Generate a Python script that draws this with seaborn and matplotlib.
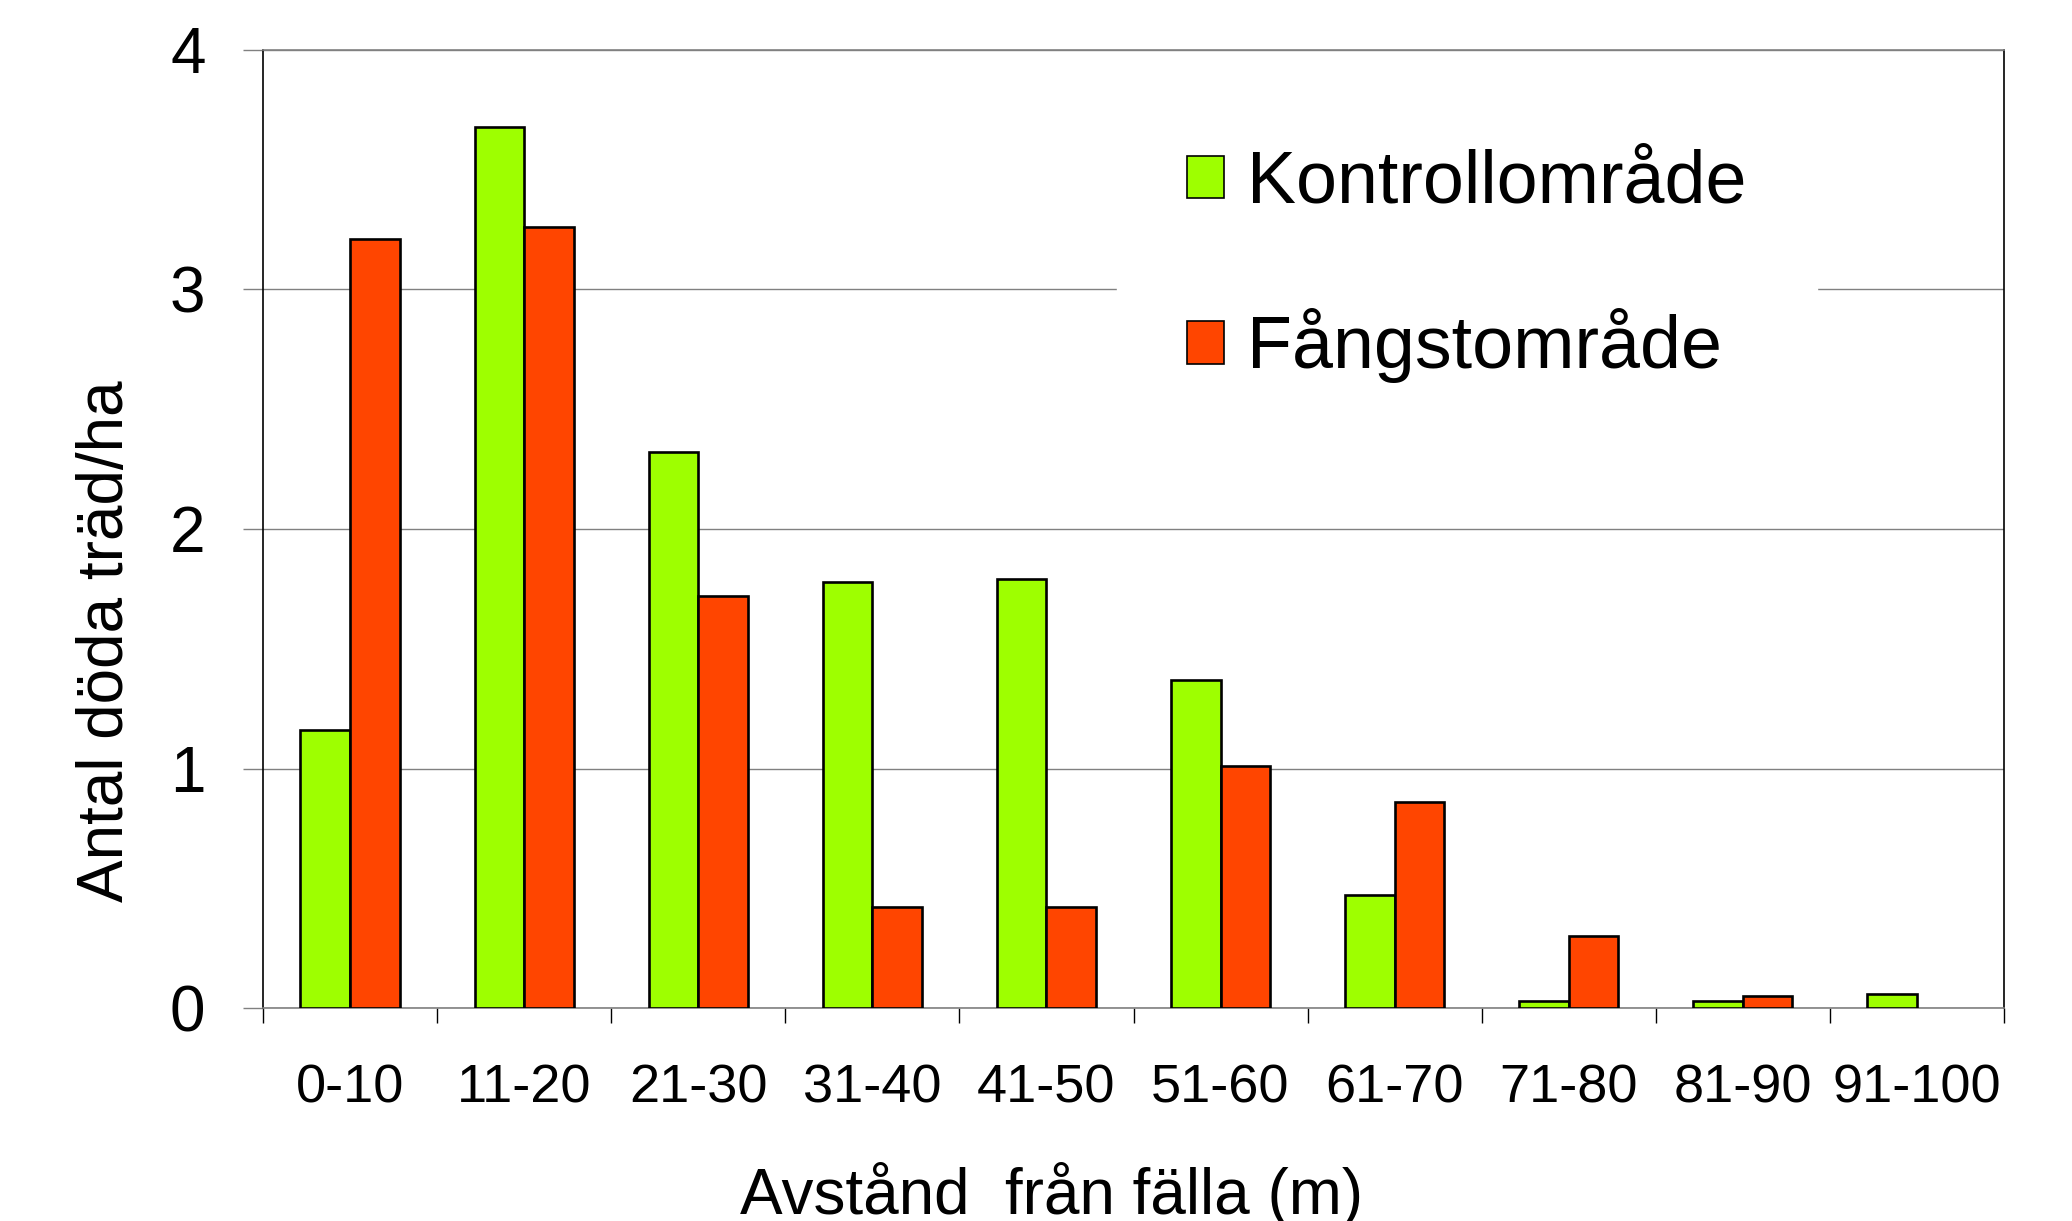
import seaborn as sns
import pandas as pd
import matplotlib
import matplotlib.pyplot as plt
from matplotlib.patches import Patch
from matplotlib.ticker import FixedLocator

matplotlib.use("Agg")

# distance classes (m)
categories = ["0-10", "11-20", "21-30", "31-40", "41-50",
              "51-60", "61-70", "71-80", "81-90", "91-100"]
# dead trees per ha
kontroll = [1.16, 3.68, 2.32, 1.78, 1.79, 1.37, 0.47, 0.03, 0.03, 0.06]
fangst = [3.21, 3.26, 1.72, 0.42, 0.42, 1.01, 0.86, 0.30, 0.05, 0.0]
series_names = ["Kontrollområde", "Fångstområde"]

green = "#9EFF00"
red = "#FF4500"
grid_grey = "#808080"

df = pd.DataFrame({
    "Avstånd": categories * 2,
    "Antal": kontroll + fangst,
    "Område": [series_names[0]] * len(categories) + [series_names[1]] * len(categories),
})

sns.set_style("white")
plt.rcParams["font.family"] = ["Liberation Sans", "DejaVu Sans"]
plt.rcParams["text.color"] = "black"
plt.rcParams["axes.labelcolor"] = "black"
plt.rcParams["xtick.color"] = "black"
plt.rcParams["ytick.color"] = "black"

fig = plt.figure(figsize=(20.72, 12.21), dpi=100)
ax = fig.add_axes([263 / 2072, 1 - 1008 / 1221, 1741 / 2072, 958 / 1221])

sns.barplot(
    ax=ax,
    data=df,
    x="Avstånd",
    y="Antal",
    hue="Område",
    palette=[green, red],
    saturation=1,
    edgecolor="black",
    linewidth=1.9,
    width=0.57,
    errorbar=None,
    legend=False,
    zorder=3,
)

# empty classes get no bar outline
for bar in ax.patches:
    if bar.get_height() == 0:
        bar.set_linewidth(0)

ax.set_ylim(0, 4)
ax.set_xlim(-0.5, len(categories) - 0.5)
ax.set_yticks([0, 1, 2, 3, 4])
ax.set_yticklabels(["0", "1", "2", "3", "4"], fontsize=46)
ax.tick_params(axis="y", direction="out", length=14.4, width=1.0,
               color=grid_grey, labelcolor="black", pad=27, left=True)
ax.yaxis.grid(True, color=grid_grey, linewidth=1.0, zorder=0)
ax.set_axisbelow(True)

# category boundaries as ticks, labels centred
ax.tick_params(axis="x", which="major", length=0, pad=40, labelsize=39,
               labelcolor="black")
ax.xaxis.set_minor_locator(FixedLocator([i - 0.5 for i in range(len(categories) + 1)]))
ax.tick_params(axis="x", which="minor", direction="out", length=11,
               width=1.0, color="black", bottom=True)

for side in ["top", "bottom"]:
    ax.spines[side].set_color(grid_grey)
    ax.spines[side].set_linewidth(1.2)
for side in ["left", "right"]:
    ax.spines[side].set_color("black")
    ax.spines[side].set_linewidth(1.2)

ax.set_xlabel("Avstånd  från fälla (m)", fontsize=46, color="black")
ax.xaxis.label.set_va("baseline")
ax.xaxis.set_label_coords(0.453, -0.215)
ax.set_ylabel("Antal döda träd/ha", fontsize=46, color="black")
ax.yaxis.set_label_coords(-0.073, 0.383)

handles = [Patch(facecolor=c, edgecolor="black", linewidth=1.2) for c in [green, red]]
leg = ax.legend(
    handles,
    series_names,
    loc="upper left",
    bbox_to_anchor=(1117 / 2072, 1 - 79 / 1221),
    bbox_transform=fig.transFigure,
    fontsize=53,
    frameon=True,
    fancybox=False,
    facecolor="white",
    edgecolor="white",
    framealpha=1,
    handlelength=0.51,
    handleheight=0.51,
    handletextpad=0.31,
    labelspacing=1.23,
    borderpad=0.95,
    borderaxespad=0,
)
for t in leg.get_texts():
    t.set_color("black")

fig.savefig("out.png", dpi=100)
